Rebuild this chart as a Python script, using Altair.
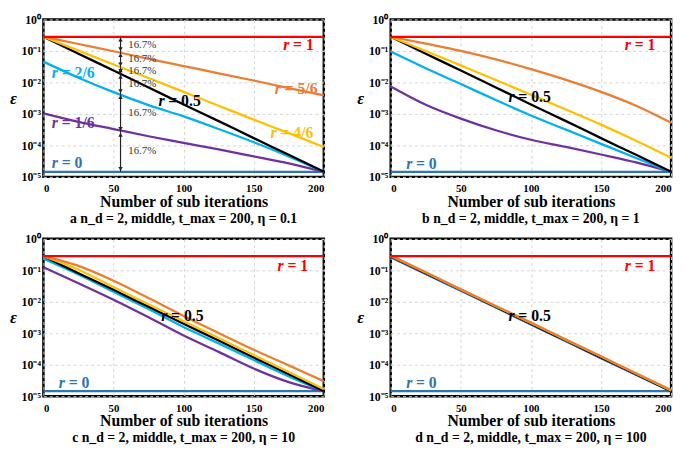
import altair as alt
import pandas as pd

# ---------------- data ----------------
T = [0, 25, 50, 75, 100, 125, 150, 175, 200]
T_FLAT = [0, 200]
EPS_R1 = [0.282, 0.282]
EPS_R0 = [1.445e-5, 1.445e-5]

# panel a : eta = 0.1
A_R56 = [0.282, 0.166, 0.0977, 0.0562, 0.0331, 0.0195, 0.0115, 0.0066, 0.0039]
A_R46 = [0.282, 0.102, 0.0372, 0.0138, 0.00501, 0.00182, 0.00066, 0.000245, 0.0000891]
A_R05 = [0.282, 0.0813, 0.024, 0.00692, 0.002, 0.000589, 0.00017, 0.0000501, 0.00001445]
A_R26 = [0.0457, 0.0141, 0.0049, 0.0019, 0.000832, 0.000331, 0.000126, 0.0000447, 0.00001445]
A_R16 = [0.00104, 0.000562, 0.000331, 0.000195, 0.00012, 0.0000741, 0.0000447, 0.0000269, 0.00001445]

# panel b : eta = 1
B_R56 = [0.282, 0.17, 0.1, 0.0537, 0.0263, 0.012, 0.00501, 0.00182, 0.000525]
B_R46 = [0.282, 0.1, 0.0347, 0.012, 0.00407, 0.00138, 0.000457, 0.000141, 0.0000407]
B_R05 = [0.282, 0.0813, 0.024, 0.00692, 0.002, 0.000589, 0.00017, 0.0000501, 0.00001445]
B_R26 = [0.0955, 0.0282, 0.00891, 0.00275, 0.000891, 0.000316, 0.000112, 0.0000398, 0.00001445]
B_R16 = [0.00741, 0.00195, 0.000708, 0.000302, 0.000151, 0.0000891, 0.0000513, 0.0000288, 0.00001445]

# panel c : eta = 10
C_R56 = [0.282, 0.138, 0.0468, 0.0132, 0.00355, 0.00102, 0.000302, 0.0000955, 0.0000302]
C_R46 = [0.282, 0.105, 0.0295, 0.00832, 0.0024, 0.000708, 0.000204, 0.0000589, 0.000017]
C_R05 = [0.282, 0.0813, 0.024, 0.00692, 0.002, 0.000589, 0.00017, 0.0000501, 0.00001445]
C_R26 = [0.234, 0.0741, 0.0209, 0.00589, 0.00158, 0.000479, 0.000141, 0.0000427, 0.00001445]
C_R16 = [0.126, 0.0389, 0.0117, 0.00324, 0.000851, 0.000257, 0.0000759, 0.0000282, 0.00001445]

# panel d : eta = 100
D_R56 = [0.295, 0.0871, 0.0251, 0.00741, 0.00219, 0.000631, 0.000186, 0.0000537, 0.0000158]
D_R46 = [0.288, 0.0851, 0.0245, 0.00724, 0.00214, 0.000617, 0.000182, 0.0000525, 0.0000151]
D_R05 = [0.282, 0.0813, 0.024, 0.00692, 0.002, 0.000589, 0.00017, 0.0000501, 0.00001445]
D_R26 = [0.275, 0.0794, 0.0234, 0.00676, 0.00195, 0.000575, 0.000166, 0.000049, 0.00001445]
D_R16 = [0.263, 0.0759, 0.0224, 0.00661, 0.00191, 0.000562, 0.000162, 0.0000479, 0.00001445]

SERIES = ["r = 0", "r = 1/6", "r = 2/6", "r = 0.5", "r = 4/6", "r = 5/6", "r = 1"]
COLORS = ["#2E75B6", "#7030A0", "#00B0F0", "#000000", "#FFC000", "#ED7D31", "#FF0000"]

PANELS = {
    "a": [A_R16, A_R26, A_R05, A_R46, A_R56],
    "b": [B_R16, B_R26, B_R05, B_R46, B_R56],
    "c": [C_R16, C_R26, C_R05, C_R46, C_R56],
    "d": [D_R16, D_R26, D_R05, D_R46, D_R56],
}
TITLES = {
    "a": "a  n_d = 2, middle, t_max = 200, η = 0.1",
    "b": "b  n_d = 2, middle, t_max = 200, η = 1",
    "c": "c  n_d = 2, middle, t_max = 200, η = 10",
    "d": "d  n_d = 2, middle, t_max = 200, η = 100",
}

# curve labels: (panel, series, left t, eps)
LABEL_PANEL = ["a", "a", "a", "a", "a", "a", "a", "b", "b", "b", "c", "c", "c", "d", "d", "d"]
LABEL_SERIES = ["r = 1", "r = 5/6", "r = 4/6", "r = 0.5", "r = 2/6", "r = 1/6", "r = 0",
                "r = 1", "r = 0.5", "r = 0", "r = 1", "r = 0.5", "r = 0", "r = 1", "r = 0.5", "r = 0"]
LABEL_T = [171, 165, 162, 82, 6, 6, 6, 167, 84, 11, 167, 84, 11, 167, 84, 11]
LABEL_EPS = [0.15, 0.0063, 0.00024, 0.0025, 0.0195, 0.0005, 0.000028,
             0.15, 0.0035, 0.000026, 0.14, 0.0035, 0.000026, 0.14, 0.0035, 0.000026]

# 16.7 % annotation in panel a (at t = 55)
ARROW_T = 55
ARROW_TOP = [0.282, 0.0912, 0.0302, 0.0186, 0.00427, 0.000269]
ARROW_BOT = [0.0912, 0.0302, 0.0186, 0.00427, 0.000269, 0.00001445]
ARROW_TEXT_T = 60.5
ARROW_TEXT_EPS = [0.158, 0.054, 0.0225, 0.0088, 0.00108, 0.000064]
ARROW_TEXT = ["16.7%"] * 6

# ---------------- tables ----------------
rows = []
for p, series_vals in PANELS.items():
    for t, e in zip(T_FLAT, EPS_R0):
        rows.append({"panel": p, "series": "r = 0", "t": t, "eps": e})
    for name, vals in zip(["r = 1/6", "r = 2/6", "r = 0.5", "r = 4/6", "r = 5/6"], series_vals):
        for t, e in zip(T, vals):
            rows.append({"panel": p, "series": name, "t": t, "eps": e})
    for t, e in zip(T_FLAT, EPS_R1):
        rows.append({"panel": p, "series": "r = 1", "t": t, "eps": e})
lines_df = pd.DataFrame(rows)

labels_df = pd.DataFrame({"panel": LABEL_PANEL, "series": LABEL_SERIES, "t": LABEL_T,
                          "eps": LABEL_EPS})
labels_df["rest"] = labels_df["series"].str.slice(2)
labels_df["r"] = "r"

arrows_df = pd.DataFrame({"t": [ARROW_T] * 6, "eps": ARROW_TOP, "eps2": ARROW_BOT})
arrow_text_df = pd.DataFrame({"t": [ARROW_TEXT_T] * 6, "eps": ARROW_TEXT_EPS,
                              "text": ARROW_TEXT})
tops_df = pd.DataFrame({"t": [ARROW_T] * 6, "eps": ARROW_TOP})
bots_df = pd.DataFrame({"t": [ARROW_T] * 6, "eps": ARROW_BOT})

# ---------------- encodings ----------------
W, H = 285, 160
SERIF = "Liberation Serif"

label_expr = ("datum.value >= 0.5 ? '10⁰' : datum.value >= 0.05 ? '10⁻¹' : "
              "datum.value >= 0.005 ? '10⁻²' : datum.value >= 0.0005 ? '10⁻³' : "
              "datum.value >= 0.00005 ? '10⁻⁴' : '10⁻⁵'")

X = alt.X("t:Q", scale=alt.Scale(domain=[0, 200], nice=False),
          axis=alt.Axis(values=[0, 50, 100, 150, 200], title="Number of sub iterations",
                        labelFontSize=11, labelPadding=6, titlePadding=0,
                        titleFontSize=16))
Y = alt.Y("eps:Q", scale=alt.Scale(type="log", domain=[1e-5, 1], nice=False),
          axis=alt.Axis(values=[1, 0.1, 0.01, 0.001, 0.0001, 0.00001], labelExpr=label_expr,
                        title="ε", titleAngle=0, titleX=-31, titleY=H / 2,
                        titleAlign="center", titleBaseline="middle",
                        titleFontStyle="italic", titleFontSize=17,
                        labelFontSize=12, labelPadding=3))
COLOR = alt.Color("series:N", scale=alt.Scale(domain=SERIES, range=COLORS), legend=None)


def panel(key):
    d = lines_df[lines_df["panel"] == key]
    lab = labels_df[labels_df["panel"] == key]
    lines = alt.Chart(d).mark_line(strokeWidth=2.3, interpolate="monotone").encode(
        x=X, y=Y, color=COLOR, detail="series:N")
    r_text = alt.Chart(lab).mark_text(
        align="left", baseline="middle", font=SERIF, fontSize=16,
        fontWeight="bold", fontStyle="italic").encode(x=X, y=Y, color=COLOR, text="r:N")
    rest_text = alt.Chart(lab).mark_text(
        align="left", baseline="middle", font=SERIF, fontSize=16,
        fontWeight="bold", dx=10).encode(x=X, y=Y, color=COLOR, text="rest:N")
    layers = [lines, r_text, rest_text]
    if key == "a":
        rule = alt.Chart(arrows_df).mark_rule(color="#222", strokeWidth=1.2).encode(
            x=X, y=Y, y2="eps2:Q")
        up = alt.Chart(tops_df).mark_point(shape="triangle-up", filled=True, size=20,
                                           color="#222", opacity=1, yOffset=3).encode(x=X, y=Y)
        down = alt.Chart(bots_df).mark_point(shape="triangle-down", filled=True, size=20,
                                             color="#222", opacity=1, yOffset=-3).encode(x=X, y=Y)
        pct = alt.Chart(arrow_text_df).mark_text(
            align="left", baseline="middle", font=SERIF, fontSize=11,
            color="#333").encode(x=X, y=Y, text="text:N")
        layers += [rule, up, down, pct]
    return alt.layer(*layers).properties(
        width=W, height=H,
        title=alt.TitleParams(TITLES[key], orient="bottom", anchor="middle", font=SERIF,
                              fontSize=14, fontWeight="bold", offset=3, color="black"))


top = alt.hconcat(panel("a"), panel("b"), spacing=26)
bottom = alt.hconcat(panel("c"), panel("d"), spacing=26)
chart = alt.vconcat(top, bottom, spacing=3).properties(
    padding={"left": 0, "top": 0, "right": 0, "bottom": 0}
).configure_view(
    stroke="black", strokeWidth=2.5
).configure_axis(
    domain=False, ticks=False, grid=True, gridDash=[3, 3], gridColor="#d4d4d4",
    labelFont=SERIF, labelFontWeight="bold", labelColor="black",
    titleFont=SERIF, titleFontWeight="bold", titleColor="black"
)

chart.save("out.html", embed_options={"renderer": "svg", "actions": False})
